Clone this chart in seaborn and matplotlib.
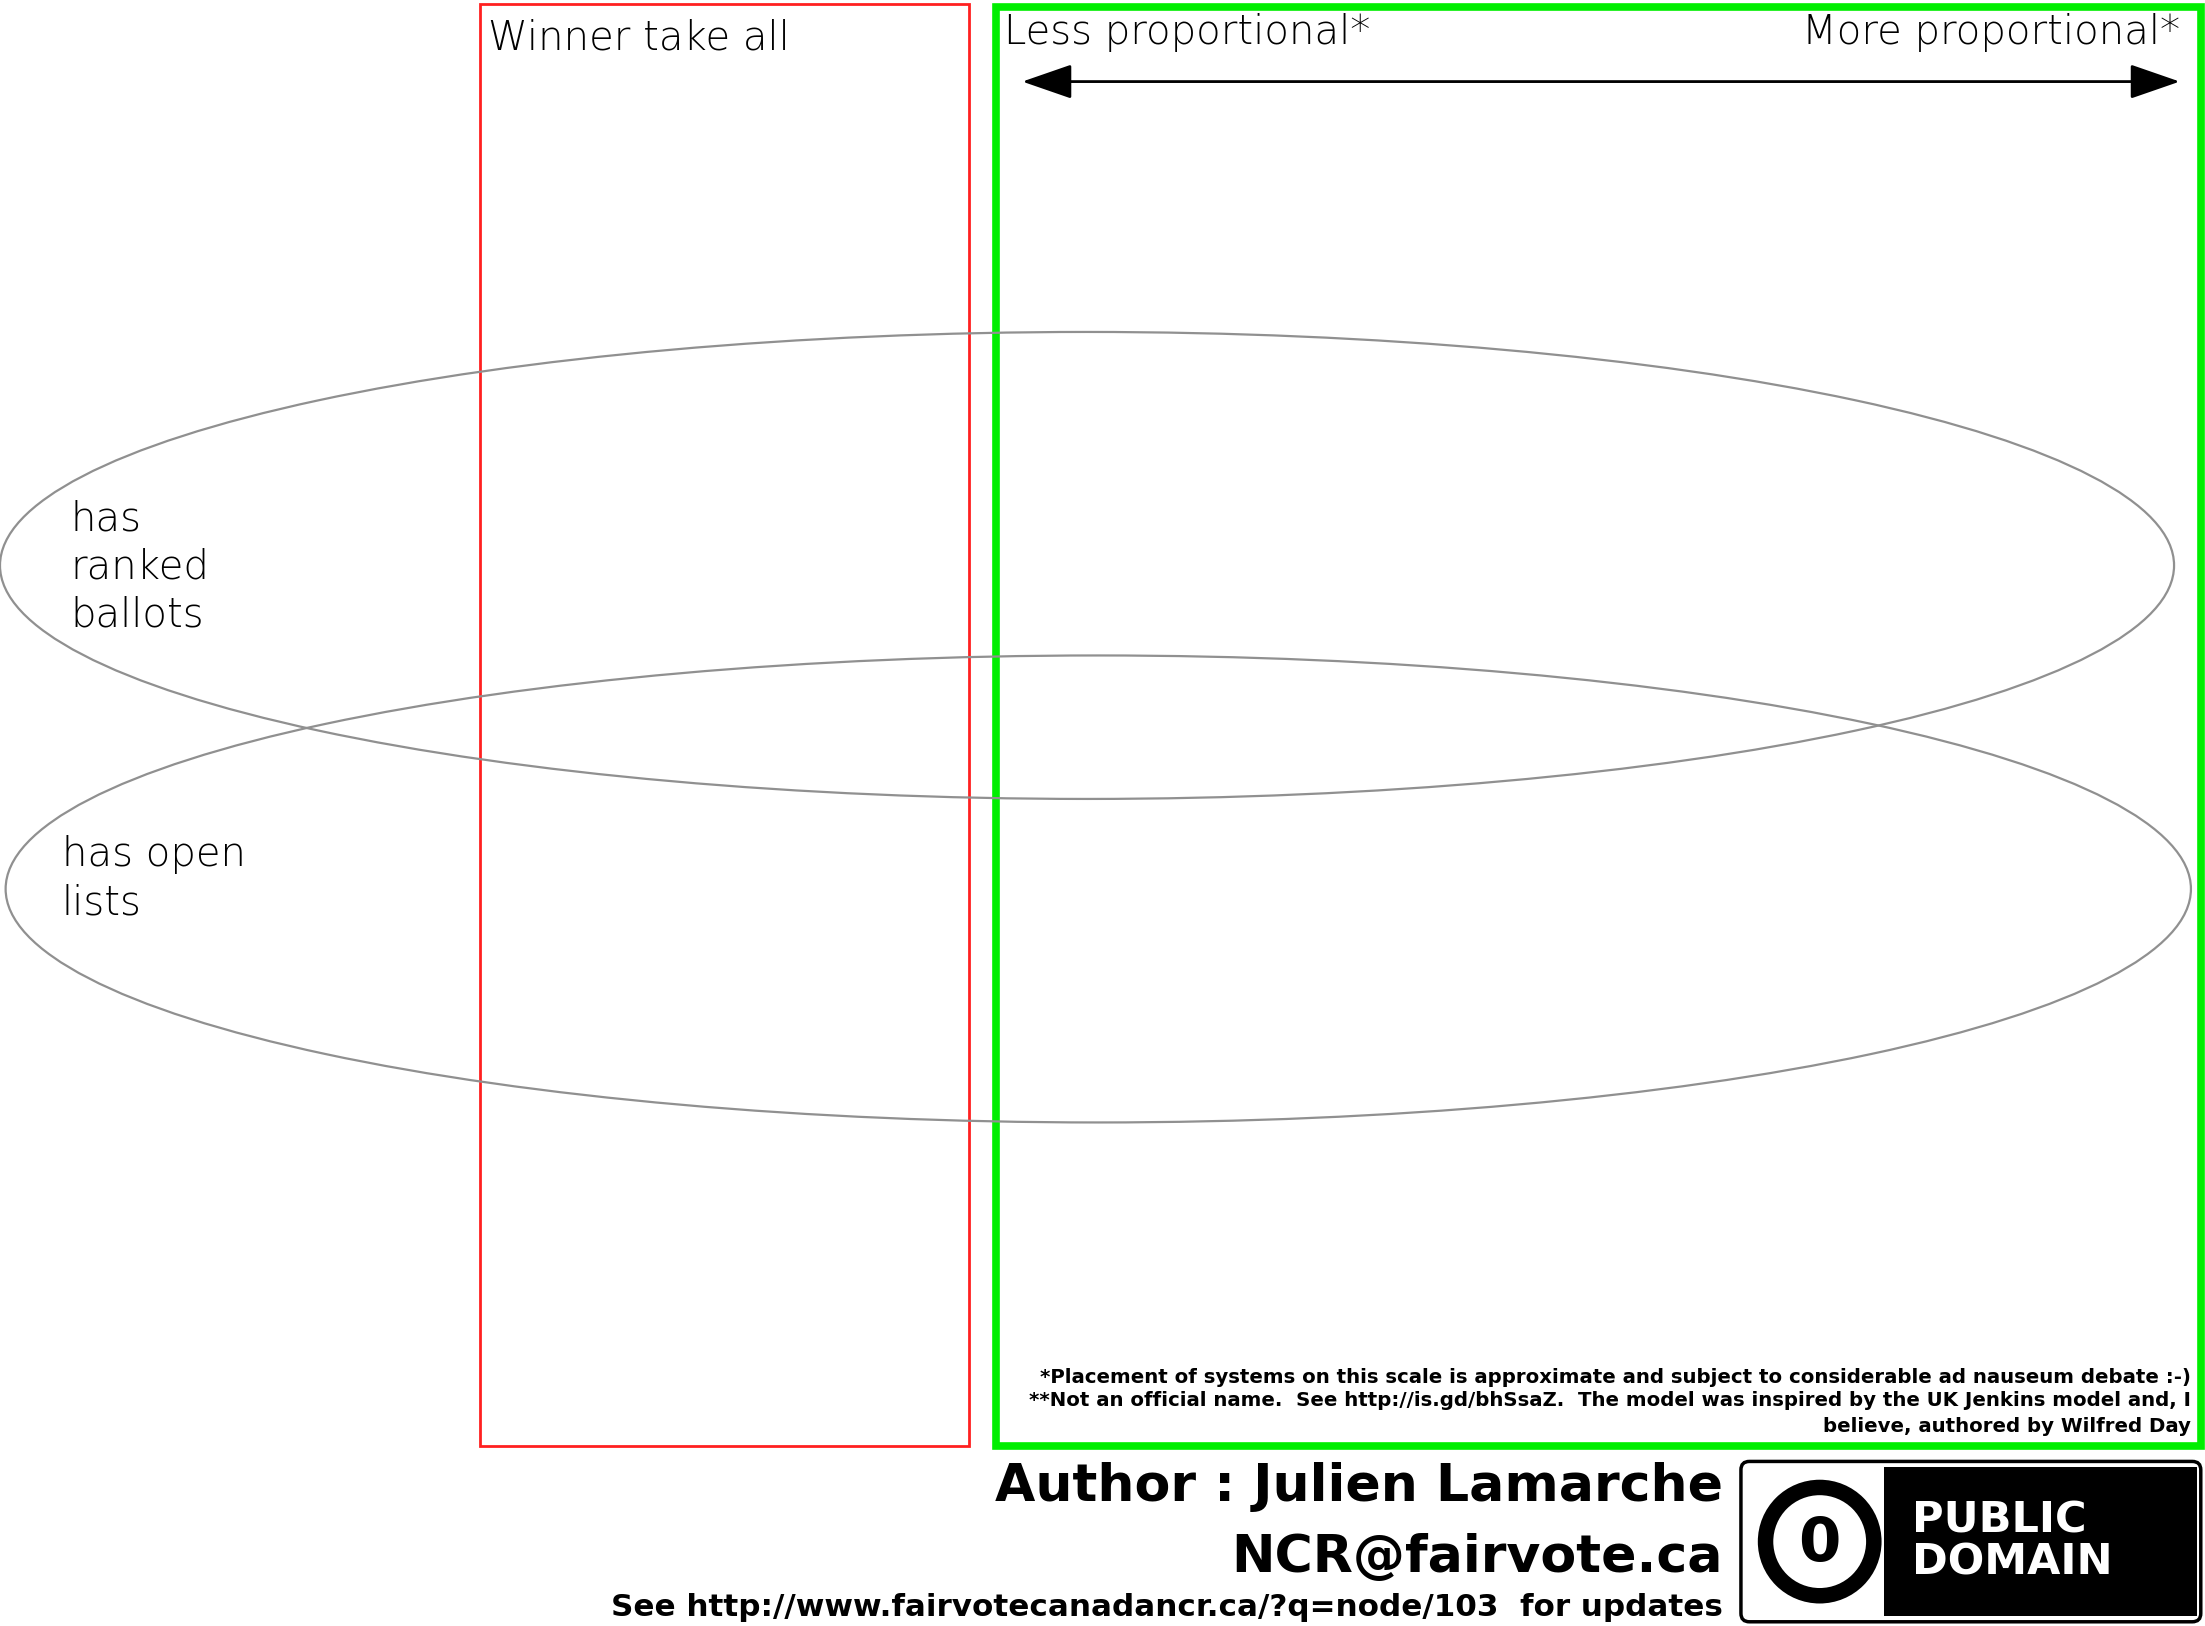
import matplotlib
matplotlib.use("Agg")
import matplotlib.pyplot as plt
import seaborn as sns
from matplotlib.patches import Rectangle, Ellipse, FancyBboxPatch, Circle

# ── Content ──────────────────────────────────────────────────────────────────
region_labels = ["Winner take all", "Less proportional*", "More proportional*"]
ellipse_labels = ["has\nranked\nballots", "has open\nlists"]
footnotes = [
    "*Placement of systems on this scale is approximate and subject to considerable ad nauseum debate :-)",
    "**Not an official name.  See http://is.gd/bhSsaZ.  The model was inspired by the UK Jenkins model and, I",
    "believe, authored by Wilfred Day",
]
author_lines = ["Author : Julien Lamarche", "NCR@fairvote.ca"]
update_line = "See http://www.fairvotecanadancr.ca/?q=node/103  for updates"
badge_lines = ["PUBLIC", "DOMAIN"]

W, H = 1568, 1156
sns.set_theme(style="white")
plt.rcParams["font.family"] = ["DejaVu Sans"]
plt.rcParams["text.color"] = "black"

fig = plt.figure(figsize=(22.05, 16.26), dpi=100)
ax = fig.add_axes([0, 0, 1, 1])
ax.set_xlim(0, W)
ax.set_ylim(H, 0)
ax.axis("off")

# ── Regions ──────────────────────────────────────────────────────────────────
ax.add_patch(Rectangle((341, 3), 348, 1025, fill=False, ec="#ff2020", lw=2))
ax.add_patch(Rectangle((708, 5), 857, 1023, fill=False, ec="#00ee00", lw=5.5))

ax.add_patch(Ellipse((773, 402), 1546, 332, fill=False, ec="#909090", lw=1.6))
ax.add_patch(Ellipse((781, 632), 1554, 332, fill=False, ec="#909090", lw=1.6))

light = dict(family="DejaVu Sans", fontweight="light", fontsize=29,
             color="black", va="center")
ax.text(347, 27, region_labels[0], ha="left", **light)
ax.text(714, 23, region_labels[1], ha="left", **light)
ax.text(1550, 23, region_labels[2], ha="right", **light)

ax.annotate("", xy=(1552, 58), xytext=(725, 58),
            arrowprops=dict(arrowstyle="<|-|>,head_length=2.6,head_width=0.9",
                            color="black", lw=2))

ax.text(50, 403, ellipse_labels[0], ha="left", linespacing=1.3, **light)
ax.text(44, 625, ellipse_labels[1], ha="left", linespacing=1.3, **light)

# ── Footnotes and credits ────────────────────────────────────────────────────
for y, line in zip([979, 996, 1014], footnotes):
    ax.text(1558, y, line, ha="right", va="center", fontsize=14.2,
            fontweight="bold", color="black")

ax.text(1225, 1057, author_lines[0], ha="right", va="center", fontsize=37.5,
        fontweight="bold", color="black")
ax.text(1225, 1108, author_lines[1], ha="right", va="center", fontsize=37.5,
        fontweight="bold", color="black")
ax.text(1225, 1143, update_line, ha="right", va="center", fontsize=22.3,
        fontweight="bold", color="black")

# ── CC0 badge ────────────────────────────────────────────────────────────────
ax.add_patch(FancyBboxPatch((1238, 1039), 327, 114,
                            boxstyle="round,pad=0,rounding_size=6",
                            fc="white", ec="black", lw=2.5))
ax.add_patch(Rectangle((1340, 1043), 222, 106, fc="black", ec="none"))
ax.add_patch(Circle((1294, 1096), 44, fc="black", ec="none"))
ax.add_patch(Circle((1294, 1096), 33, fc="white", ec="none"))
ax.text(1294, 1098, "0", ha="center", va="center", fontsize=44,
        fontweight="bold", color="black")
ax.text(1360, 1096, "\n".join(badge_lines), ha="left", va="center",
        fontsize=31, fontweight="bold", color="white", linespacing=1.0)

fig.savefig("out.png", dpi=100)
